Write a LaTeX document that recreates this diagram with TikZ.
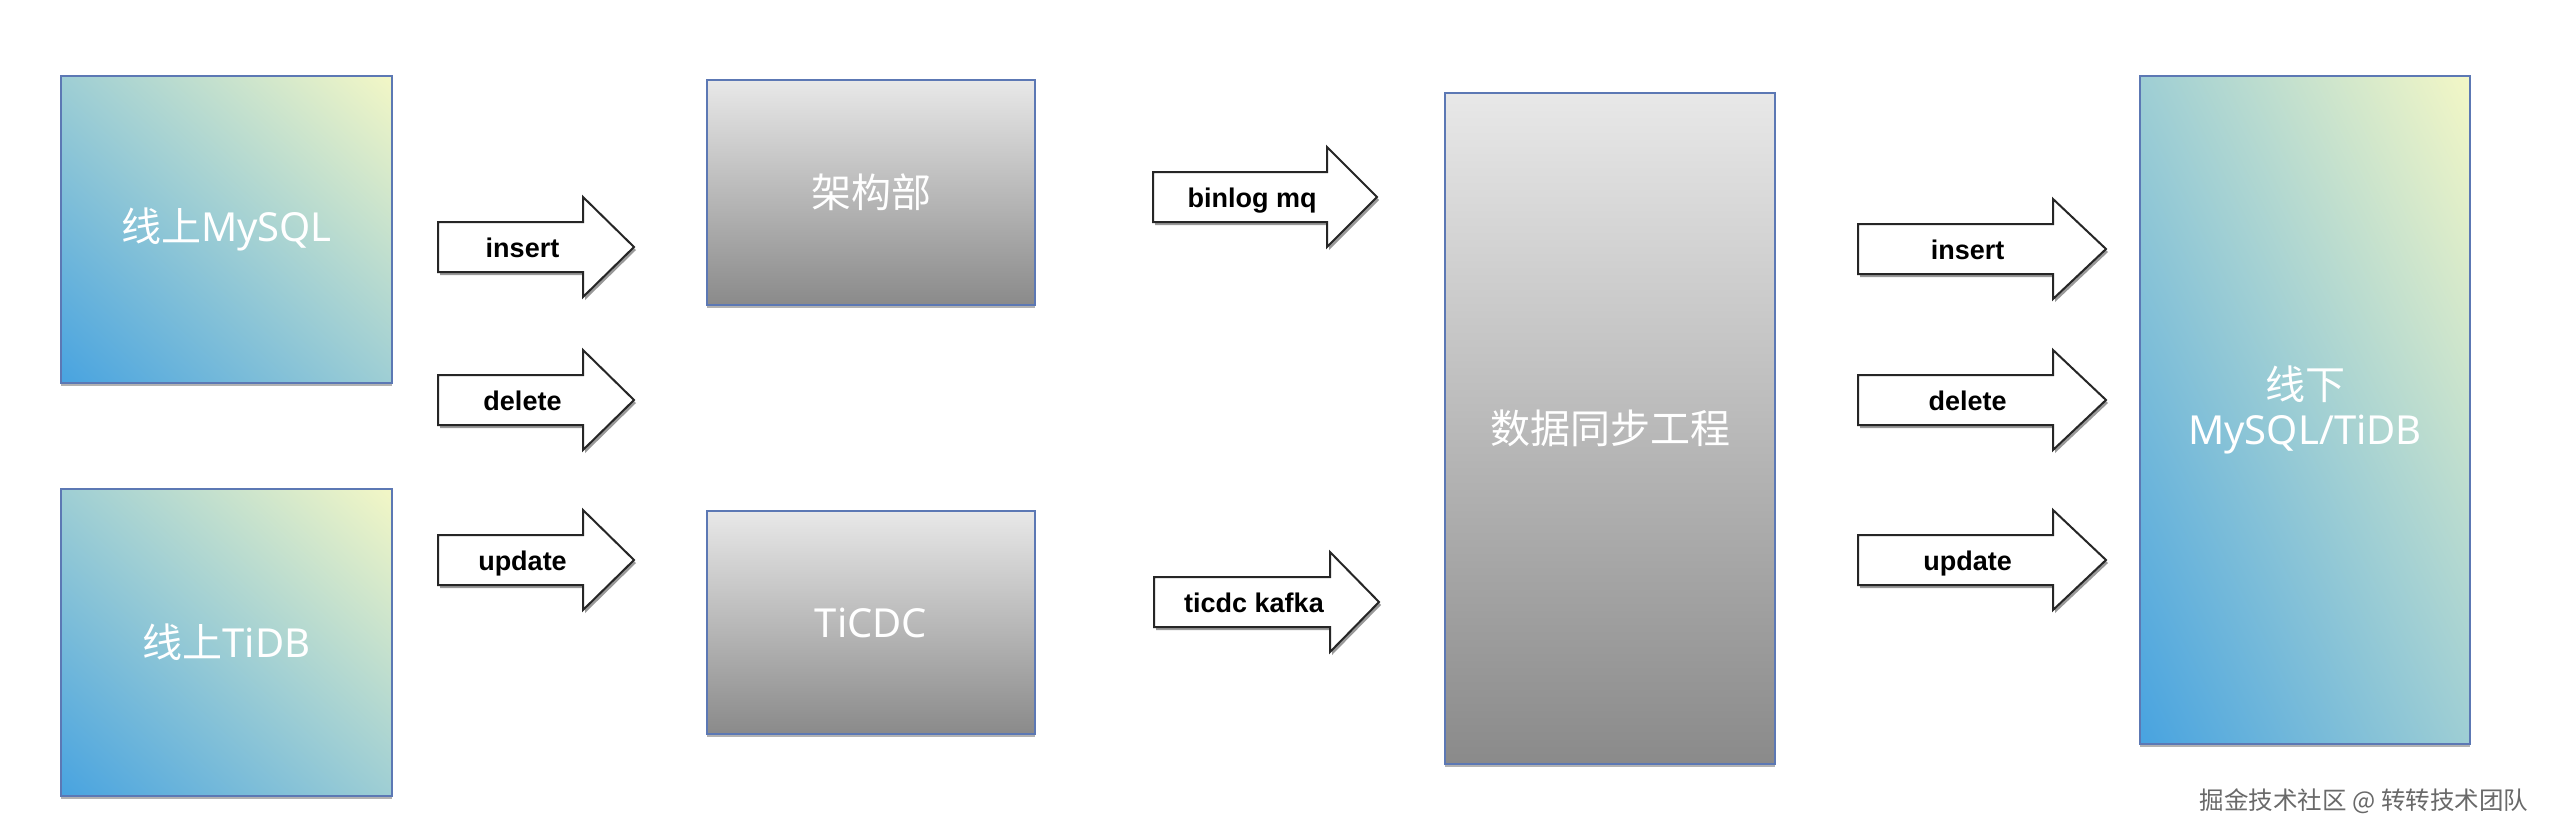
\documentclass[tikz,border=0pt]{standalone}
\usepackage{fontspec}
\setmainfont{Liberation Sans}
\newfontfamily\cjkf{Noto Sans CJK SC}
\newfontfamily\latf{Noto Sans}
\usetikzlibrary{shadows}
\definecolor{gtop}{RGB}{232,232,232}
\definecolor{gbot}{RGB}{138,138,138}
\definecolor{boxline}{RGB}{92,120,180}
\definecolor{wmark}{RGB}{105,105,105}
% diagonal gradient: blue (bottom-left) -> teal (centre) -> pale yellow (top-right)
\pgfdeclarefunctionalshading{bluediag}{\pgfpointorigin}{\pgfpoint{100bp}{100bp}}{}{
  add 50 sub 100 div
  dup 0 lt {pop 0} if
  dup 1 gt {pop 1} if
  dup 0.5 lt
  { 2 mul dup 0.338 mul 0.282 add exch dup 0.169 mul 0.639 add exch -0.047 mul 0.878 add }
  { 0.5 sub 2 mul dup 0.333 mul 0.620 add exch dup 0.161 mul 0.808 add exch -0.055 mul 0.831 add }
  ifelse
}
\newcommand\boxfont{\fontsize{40}{45}\selectfont}
\tikzset{
  boxshadow/.style={drop shadow={shadow xshift=0pt,shadow yshift=-3pt,opacity=.3,fill=black}},
  bluebox/.style={boxshadow, draw=boxline, line width=2pt, shading=bluediag, text=white, font=\boxfont, align=center, inner sep=0pt},
  graybox/.style={boxshadow, draw=boxline, line width=2pt, top color=gtop, bottom color=gbot, text=white, font=\boxfont, align=center, inner sep=0pt},
  arrowbody/.style={draw=black!85, line width=2pt, fill=white, line join=miter},
  arrowshadow/.style={fill=black!40},
  oplabel/.style={font=\bfseries\fontsize{27}{30}\selectfont, inner sep=0pt, text=black, text height=20pt, text depth=0pt},
  wmstyle/.style={font=\cjkf\fontsize{24.5}{26}\selectfont, text=wmark, inner sep=0pt}
}
% #1 name, #2 tail x, #3 centre y, #4 head base x, #5 tip x, #6 label
\newcommand\blockarrow[6]{%
  \fill[arrowshadow, shift={(2,3)}] (#2,#3-25) -- (#4,#3-25) -- (#4,#3-50) -- (#5,#3) -- (#4,#3+50) -- (#4,#3+25) -- (#2,#3+25) -- cycle;
  \draw[arrowbody] (#2,#3-25) -- (#4,#3-25) -- (#4,#3-50) -- (#5,#3) -- (#4,#3+50) -- (#4,#3+25) -- (#2,#3+25) -- cycle;
  \node[oplabel] (#1) at ({(#2+#4)/2+12},#3) {#6};
}
\begin{document}
\begin{tikzpicture}[x=1pt,y=-1pt]
\useasboundingbox (0,0) rectangle (2560,838);
\fill[white] (0,0) rectangle (2560,838);

% boxes
\node[bluebox, minimum width=331pt, minimum height=307pt] (mysql) at (226.5,229.5) {{\cjkf 线上}{\latf MySQL}};
\node[bluebox, minimum width=331pt, minimum height=307pt] (tidb) at (226.5,642.5) {{\cjkf 线上}{\latf TiDB}};
\node[graybox, minimum width=328pt, minimum height=225pt] (arch) at (871,192.5) {\cjkf 架构部};
\node[graybox, minimum width=328pt, minimum height=223pt] (ticdc) at (871,622.5) {\latf TiCDC};
\node[graybox, minimum width=330pt, minimum height=671pt] (sync) at (1610,428.5) {\cjkf 数据同步工程};
\node[bluebox, minimum width=330pt, minimum height=668pt] (offline) at (2305,410) {{\cjkf 线下}\\{\latf MySQL/TiDB}};

% block arrows
\blockarrow{insL}{438}{247}{583}{634}{insert}
\blockarrow{delL}{438}{400}{583}{634}{delete}
\blockarrow{updL}{438}{560}{583}{634}{update}
\blockarrow{binlog}{1153}{197}{1327}{1377}{binlog mq}
\blockarrow{kafka}{1154}{602}{1330}{1379}{ticdc kafka}
\blockarrow{insR}{1858}{249}{2053}{2106}{insert}
\blockarrow{delR}{1858}{400}{2053}{2106}{delete}
\blockarrow{updR}{1858}{560}{2053}{2106}{update}

% watermark
\node[wmstyle] (wm) at (2364,801) {掘金技术社区 @ 转转技术团队};
\end{tikzpicture}
\end{document}
